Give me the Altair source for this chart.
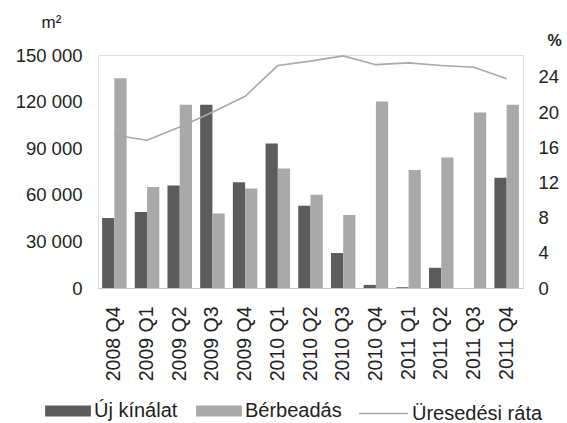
import altair as alt
import pandas as pd

quarters = ["2008 Q4", "2009 Q1", "2009 Q2", "2009 Q3", "2009 Q4", "2010 Q1", "2010 Q2",
            "2010 Q3", "2010 Q4", "2011 Q1", "2011 Q2", "2011 Q3", "2011 Q4"]
uj_kinalat = [45000, 49000, 66000, 118000, 68000, 93000, 53000, 22500, 2000, 500, 13000, 0, 71000]
berbeadas = [135000, 65000, 118000, 48000, 64000, 77000, 60000, 47000, 120000, 76000, 84000, 113000, 118000]
ures_rata = [17.4, 16.8, 18.3, 20.0, 21.8, 25.3, 25.8, 26.4, 25.4, 25.6, 25.3, 25.1, 23.8]

series = ["Új kínálat", "Bérbeadás"]

bars_df = pd.DataFrame(
    [{"q": q, "s": series[0], "v": v} for q, v in zip(quarters, uj_kinalat)]
    + [{"q": q, "s": series[1], "v": v} for q, v in zip(quarters, berbeadas)]
)
line_df = pd.DataFrame({"q": quarters, "r": ures_rata, "s": "Üresedési ráta"})

FONT = "Liberation Sans"

xenc = alt.X(
    "q:N", sort=quarters,
    scale=alt.Scale(paddingInner=0.25, paddingOuter=0.125),
    axis=alt.Axis(title=None, labelAngle=270, labelFontSize=19.5, labelFont=FONT,
                  labelColor="#222", ticks=False, domainColor="#c8c8c8",
                  labelPadding=18),
)

bars = alt.Chart(bars_df).mark_bar().encode(
    x=xenc,
    xOffset=alt.XOffset("s:N", sort=series),
    y=alt.Y("v:Q", scale=alt.Scale(domain=[0, 150000], nice=False),
            axis=alt.Axis(values=[0, 30000, 60000, 90000, 120000, 150000],
                          labelExpr="replace(format(datum.value, ','), ',', ' ')",
                          grid=False, domain=False, ticks=False, labelPadding=16,
                          labelFontSize=18.5, labelFont=FONT, labelColor="#222",
                          title="m²", titleAngle=0, titleX=-47, titleY=-33,
                          titleAlign="center", titleBaseline="middle",
                          titleFontSize=17, titleFont=FONT, titleFontWeight="normal",
                          titleColor="#222")),
    color=alt.Color("s:N", sort=series,
                    scale=alt.Scale(domain=series, range=["#5c5c5c", "#a9a9a9"]),
                    legend=alt.Legend(title=None, orient="none", legendX=-53, legendY=333,
                                      direction="horizontal",
                                      symbolType="M-1,-0.24H1V0.24H-1Z", symbolSize=2100,
                                      symbolStrokeWidth=0, labelOffset=3, columnPadding=18,
                                      labelFontSize=20, labelFont=FONT, labelColor="#222")),
)

line = alt.Chart(line_df).mark_line(strokeWidth=1.6).encode(
    x=alt.X("q:N", sort=quarters),
    y=alt.Y("r:Q", scale=alt.Scale(domain=[0, 26.5], nice=False),
            axis=alt.Axis(orient="right", values=[0, 4, 8, 12, 16, 20, 24],
                          grid=False, domain=False, ticks=False, labelPadding=15,
                          labelFontSize=18.5, labelFont=FONT, labelColor="#222",
                          title="%", titleAngle=0, titleX=31, titleY=-15,
                          titleAlign="center", titleBaseline="middle",
                          titleFontSize=16, titleFont=FONT, titleFontWeight="bold",
                          titleColor="#222")),
    stroke=alt.Stroke("s:N", scale=alt.Scale(range=["#a8a8a8"]),
                      legend=alt.Legend(title=None, orient="none", legendX=260, legendY=333,
                                        symbolType="stroke", symbolSize=2400,
                                        symbolStrokeWidth=1.6, labelOffset=3,
                                        labelFontSize=20, labelFont=FONT, labelColor="#222")),
)

chart = (
    alt.layer(bars, line)
    .resolve_scale(y="independent", color="independent")
    .properties(width=425, height=233,
                autosize=alt.AutoSizeParams(type="none"),
                padding={"left": 98, "top": 55, "right": 44, "bottom": 135})
    .configure_view(stroke=None)
    .configure(background="white")
)

chart.save("out.html", embed_options={"renderer": "svg", "actions": False})
